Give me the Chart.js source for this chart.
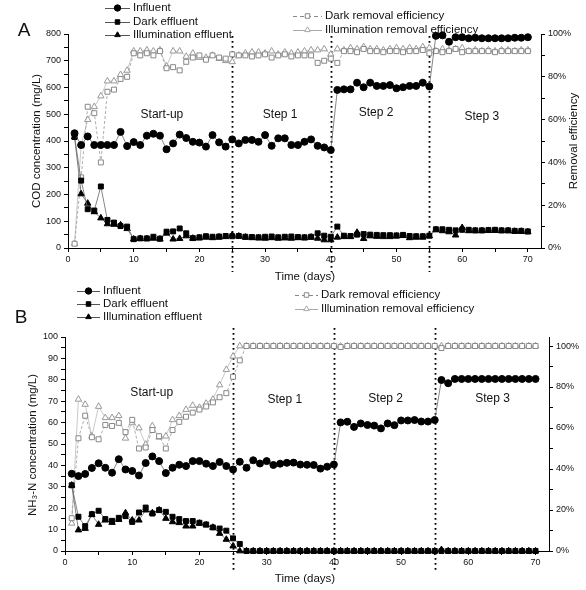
<!DOCTYPE html>
<html>
<head>
<meta charset="utf-8">
<script src="https://cdn.jsdelivr.net/npm/chart.js@4.4.0/dist/chart.umd.min.js"></script>
<style>
  body { margin: 0; background: #fff; }
  #wrap { position: relative; width: 586px; height: 590px; }
  #chartA { position: absolute; left: 0; top: 0; }
  #chartB { position: absolute; left: 0; top: 280px; }
</style>
</head>
<body>
<div id="wrap">
  <canvas id="chartA" width="586" height="290"></canvas>
  <canvas id="chartB" width="586" height="310"></canvas>
</div>
<script>
// days of operation
const days = [1,2,3,4,5,6,7,8,9,10,11,12,13,14,15,16,17,18,19,20,21,22,23,24,25,26,27,28,29,30,31,32,33,34,35,
  36,37,38,39,40,41,42,43,44,45,46,47,48,49,50,51,52,53,54,55,56,57,58,59,60,61,62,63,64,65,66,67,68,69,70];
const stepNames = ["Start-up", "Step 1", "Step 2", "Step 3"];
const stepBounds = [25, 40, 55];

// tick positions (labels only on every other one)
const xTicks = [0,5,10,15,20,25,30,35,40,45,50,55,60,65,70];
const codTicks = [0,50,100,150,200,250,300,350,400,450,500,550,600,650,700,750,800];
const nhTicks = [0,5,10,15,20,25,30,35,40,45,50,55,60,65,70,75,80,85,90,95,100];
const pctTicks = [0,10,20,30,40,50,60,70,80,90,100];

// panel A - COD (mg/L) and removal efficiency (%)
const codInfluent = [429,385,417,385,385,385,385,434,381,396,385,420,427,420,369,391,424,411,397,
  394,379,422,395,379,406,391,404,404,397,422,382,410,410,385,385,397,406,382,376,366,
  591,593,593,618,601,618,606,606,609,597,601,606,606,618,604,
  793,795,771,788,788,784,786,784,784,784,784,784,786,786,788];
const codDark = [415,252,145,140,230,105,95,82,80,33,36,36,42,35,61,62,73,55,37,40,44,42,43,45,44,
  45,42,41,40,42,43,40,42,43,41,40,42,55,46,42,
  80,46,45,50,52,50,49,48,48,47,49,45,44,44,46,
  70,70,68,66,68,68,66,66,67,68,66,66,64,64,62];
const codIllum = [415,202,167,135,112,90,88,86,72,33,35,34,36,33,55,33,35,45,36,37,40,38,40,42,48,
  44,40,38,37,36,38,36,37,36,38,37,40,36,30,30,
  40,42,42,58,35,45,43,42,42,44,46,38,40,40,45,
  68,64,60,48,76,64,64,64,65,65,64,64,62,62,60];
const codDarkEff = [2,33,66,63,40,73,74,79,80,91,90,91,90,92,84,84.5,83,87,89,90,88,90,89,88.5,90.5,
  90,90,89.5,90,90.5,89,90,90.5,89.5,90,90,90,86.5,87.5,88.5,
  86.5,92,92,91.5,93,92,92,91.5,92,92,91.5,92,92,92.5,91,
  92,91.5,92,93,91.5,92,92,92,92,91.5,92,92,92,92,92];
const codIllumEff = [2,48,60,66,71,78,78,81,83,92,92,92.5,92,92.5,85,92,92,89.5,91,89,89,90,88.5,87.5,87,
  90,91,91.5,91.5,91,92,90.5,91.5,91,91.5,92,92.5,92.5,93,90.5,
  93,92.5,93.5,93,94,93,93,92.5,93,93.5,93,93.5,93,94,93.5,
  92,93,92.5,93,93.5,92,92.5,92,92.5,92,92.5,92.5,92,92.5,92.5];

// panel B - NH3-N (mg/L) and removal efficiency (%)
const nhInfluent = [36.1,35,36,38.8,41,38.9,36.6,42.9,38.1,37.4,35.3,41.1,44.2,42,36.4,38.9,40.3,39.7,42,42,
  40.8,39.7,41.6,39.7,38.1,41.7,38.9,42.4,40.9,42,40.2,40.8,41.2,41.3,40.4,40.3,40.2,38.5,39.4,40.4,
  60.1,60.4,58,59.6,58.9,58.6,57.3,59.6,58.8,61,61,61.2,60.5,60.5,61.2,
  79.9,78.4,80.4,80.4,80.4,80.4,80.4,80.4,80.4,80.4,80.4,80.4,80.4,80.4,80.4];
const nhDark = [30.7,16,11.6,17.2,18.8,14.9,14.1,15.5,16.3,13.6,18,20.3,17.5,19.1,18.3,16,14.9,14,14,13.2,
  12.4,11,10.5,9.5,5.9,3.3,0,0,0,0,0,0,0,0,0,0,0,0,0,0,
  0,0,0,0,0,0,0,0,0,0,0,0,0,0,0,
  0,0,0,0,0,0,0,0,0,0,0,0,0,0,0];
const nhIllum = [30.7,9.8,10.5,17,12.4,14.4,13.3,14.7,17.8,14.4,14.4,19.1,17.8,19.1,15.2,13.6,13.2,11.6,11.6,12.9,
  12.1,11,8.2,5.4,2.3,0,0,0,0,0,0,0,0,0,0,0,0,0,0,0,
  0,0,0,0,0,0,0,0,0,0,0,0,0,0,0,
  0.6,0,0,0,0,0,0,0,0,0,0,0,0,0,0];
const nhDarkEff = [16,55,66,55.5,54.5,61.5,61,62.5,58,64,50,50.5,59,56,50,59,63,65.5,67.5,69,
  70.5,72.5,75,77,85,93,100,100,100,100,100,100,100,100,100,100,100,100,100,100,
  99.5,100,100,100,100,100,100,100,100,100,100,100,100,100,100,
  99,100,100,100,100,100,100,100,100,100,100,100,100,100,100];
const nhIllumEff = [13.5,74,71.5,56,70.5,65,65,66,55,62.5,60,52,61,55.5,56,64,66,69,71,70,
  72,74,81,88.5,95,100,100,100,100,100,100,100,100,100,100,100,100,100,100,100,
  100,100,100,100,100,100,100,100,100,100,100,100,100,100,100,
  100,100,100,100,100,100,100,100,100,100,100,100,100,100,100];

const FONT = '"Liberation Sans", Arial, sans-serif';
Chart.defaults.font.family = FONT;
Chart.defaults.color = "#111";

function pts(ys) {
  return days.map((d, i) => ({ x: d, y: ys[i] }));
}

// small marker drawer for the hand-made legends
function marker(ctx, style, x, y, r, fill, stroke) {
  ctx.save();
  ctx.setLineDash([]);
  ctx.fillStyle = fill;
  ctx.strokeStyle = stroke;
  ctx.lineWidth = 1;
  ctx.beginPath();
  if (style === "circle") {
    ctx.arc(x, y, r, 0, Math.PI * 2);
  } else if (style === "rect") {
    const s = r * Math.SQRT1_2;
    ctx.rect(x - s, y - s, 2 * s, 2 * s);
  } else {
    let a = 0;
    ctx.moveTo(x + Math.sin(a) * r, y - Math.cos(a) * r);
    a += Math.PI * 2 / 3;
    ctx.lineTo(x + Math.sin(a) * r, y - Math.cos(a) * r);
    a += Math.PI * 2 / 3;
    ctx.lineTo(x + Math.sin(a) * r, y - Math.cos(a) * r);
    ctx.closePath();
  }
  ctx.fill();
  ctx.stroke();
  ctx.restore();
}

// dotted step lines, step names, axis titles, legends, panel letter
function decor(o) {
  return {
    id: "decor",
    beforeDatasetsDraw(chart) {
      const ctx = chart.ctx, xs = chart.scales.x, ys = chart.scales.y;
      ctx.save();
      ctx.strokeStyle = "#000";
      ctx.lineWidth = 1.8;
      ctx.setLineDash([1.8, 3.2]);
      stepBounds.forEach((d) => {
        const px = Math.round(xs.getPixelForValue(d)) + 0.5;
        ctx.beginPath();
        ctx.moveTo(px, o.lineTop);
        ctx.lineTo(px, o.lineBottom);
        ctx.stroke();
      });
      ctx.setLineDash([]);
      ctx.fillStyle = "#111";
      ctx.font = "12px " + FONT;
      ctx.textAlign = "center";
      ctx.textBaseline = "middle";
      stepNames.forEach((s, i) => {
        ctx.fillText(s, xs.getPixelForValue(o.stepX[i]), ys.getPixelForValue(o.stepY[i]));
      });
      ctx.restore();
    },
    afterDraw(chart) {
      const ctx = chart.ctx;
      ctx.save();
      ctx.fillStyle = "#111";
      ctx.textBaseline = "middle";
      // panel letter
      ctx.font = "19px " + FONT;
      ctx.textAlign = "center";
      ctx.fillText(o.letter, o.letterPos[0], o.letterPos[1]);
      // axis titles
      ctx.font = "11.5px " + FONT;
      ctx.fillText("Time (days)", o.xTitle[0], o.xTitle[1]);
      o.yTitles.forEach((t) => {
        ctx.save();
        ctx.translate(t.x, t.y);
        ctx.rotate(-Math.PI / 2);
        ctx.fillText(t.text, 0, 0);
        ctx.restore();
      });
      // legends
      ctx.font = "11.5px " + FONT;
      ctx.textAlign = "left";
      o.legend.forEach((it) => {
        ctx.save();
        ctx.strokeStyle = it.line;
        ctx.lineWidth = 1;
        ctx.setLineDash(it.dash || []);
        ctx.beginPath();
        ctx.moveTo(it.x0, it.y + 0.5);
        ctx.lineTo(it.x1, it.y + 0.5);
        ctx.stroke();
        ctx.restore();
        marker(ctx, it.style, (it.x0 + it.x1) / 2, it.y, 3.2, it.fill, it.stroke);
        ctx.fillStyle = "#111";
        ctx.fillText(it.text, it.x1 + 3, it.y);
      });
      ctx.restore();
    }
  };
}

function legendItems(lx0, lx1, ly, rx0, rx1, ry) {
  return [
    { text: "Influent", style: "circle", fill: "#000", stroke: "#000", line: "#555", x0: lx0, x1: lx1, y: ly[0] },
    { text: "Dark effluent", style: "rect", fill: "#000", stroke: "#000", line: "#555", x0: lx0, x1: lx1, y: ly[1] },
    { text: "Illumination effluent", style: "triangle", fill: "#000", stroke: "#000", line: "#555", x0: lx0, x1: lx1, y: ly[2] },
    { text: "Dark removal efficiency", style: "rect", fill: "#fff", stroke: "#888", line: "#888", dash: [4, 3], x0: rx0, x1: rx1, y: ry[0] },
    { text: "Illumination removal efficiency", style: "triangle", fill: "#fff", stroke: "#aaa", line: "#aaa", x0: rx0, x1: rx1, y: ry[1] }
  ];
}

function makeDatasets(inf, dark, ill, darkEff, illEff) {
  const base = { showLine: true, borderWidth: 0.8, clip: false, pointBorderWidth: 1 };
  return [
    Object.assign({}, base, { label: "Influent", data: pts(inf), yAxisID: "y", borderColor: "#666",
      pointStyle: "circle", pointRadius: 3.5, pointBackgroundColor: "#000", pointBorderColor: "#000", order: 0 }),
    Object.assign({}, base, { label: "Dark effluent", data: pts(dark), yAxisID: "y", borderColor: "#666",
      pointStyle: "rect", pointRadius: 3.5, pointBackgroundColor: "#000", pointBorderColor: "#000", order: 1 }),
    Object.assign({}, base, { label: "Illumination effluent", data: pts(ill), yAxisID: "y", borderColor: "#666",
      pointStyle: "triangle", pointRadius: 3.7, pointBackgroundColor: "#000", pointBorderColor: "#000", order: 2 }),
    Object.assign({}, base, { label: "Dark removal efficiency", data: pts(darkEff), yAxisID: "y2", borderColor: "#999",
      borderDash: [3, 2], pointStyle: "rect", pointRadius: 3.5, pointBackgroundColor: "#fff", pointBorderColor: "#888", order: 3 }),
    Object.assign({}, base, { label: "Illumination removal efficiency", data: pts(illEff), yAxisID: "y2", borderColor: "#bbb",
      pointStyle: "triangle", pointRadius: 3.7, pointBackgroundColor: "#fff", pointBorderColor: "#999", order: 4 })
  ];
}

function axisStyle() {
  return {
    border: { display: true, color: "#000", width: 1 },
    grid: { drawOnChartArea: false, drawTicks: true, tickLength: 4, color: "#000", tickColor: "#000" }
  };
}

function fixTicks(list) {
  return (s) => { s.ticks = list.map((v) => ({ value: v })); };
}

function makeOptions(p) {
  return {
    responsive: false,
    animation: false,
    layout: { padding: { top: p.top, left: 0, right: 0, bottom: 0 } },
    plugins: { legend: { display: false }, tooltip: { enabled: false } },
    scales: {
      x: Object.assign(axisStyle(), {
        type: "linear", min: 0, max: 72,
        afterFit: (s) => { s.height = p.xHeight; },
        afterBuildTicks: fixTicks(xTicks),
        ticks: { autoSkip: false, maxRotation: 0, padding: 2, font: { size: 9 },
          callback: (v) => (v % 10 === 0 ? v : "") }
      }),
      y: Object.assign(axisStyle(), {
        position: "left", min: 0, max: p.yMax,
        afterFit: (s) => { s.width = p.yWidth; },
        afterBuildTicks: fixTicks(p.yTicks),
        ticks: { autoSkip: false, padding: 3, font: { size: 9 },
          callback: (v) => (v % p.yStep === 0 ? v : "") }
      }),
      y2: Object.assign(axisStyle(), {
        position: "right", min: 0, max: p.y2Max,
        afterFit: (s) => { s.width = p.y2Width; },
        afterBuildTicks: fixTicks(pctTicks),
        ticks: { autoSkip: false, padding: 3, font: { size: 9 },
          callback: (v) => (v % 20 === 0 ? v + "%" : "") }
      })
    }
  };
}

// panel A
new Chart(document.getElementById("chartA").getContext("2d"), {
  type: "scatter",
  data: { datasets: makeDatasets(codInfluent, codDark, codIllum, codDarkEff, codIllumEff) },
  options: makeOptions({ top: 34, xHeight: 42, yWidth: 68, y2Width: 45, yMax: 800, yStep: 100, yTicks: codTicks, y2Max: 100 }),
  plugins: [decor({
    letter: "A", letterPos: [24, 31],
    lineTop: 36, lineBottom: 272,
    stepX: [14.3, 32.3, 46.9, 63], stepY: [497, 497, 505, 490],
    xTitle: [305, 277],
    yTitles: [{ text: "COD concentration (mg/L)", x: 37, y: 141 }, { text: "Removal efficiency", x: 574, y: 141 }],
    legend: legendItems(105, 130, [8, 22, 35], 293, 322, [16, 30])
  })]
});

// panel B
new Chart(document.getElementById("chartB").getContext("2d"), {
  type: "scatter",
  data: { datasets: makeDatasets(nhInfluent, nhDark, nhIllum, nhDarkEff, nhIllumEff) },
  options: makeOptions({ top: 57, xHeight: 39, yWidth: 65, y2Width: 37, yMax: 100, yStep: 10, yTicks: nhTicks, y2Max: 104.4 }),
  plugins: [decor({
    letter: "B", letterPos: [21, 38],
    lineTop: 48, lineBottom: 293,
    stepX: [12.9, 32.7, 47.7, 63.6], stepY: [74, 70.5, 71, 71],
    xTitle: [305, 299],
    yTitles: [{ text: "NH\u2083-N concentration (mg/L)", x: 33, y: 165 }],
    legend: legendItems(77, 100, [11, 24, 37], 295, 318, [15, 29])
  })]
});
</script>
</body>
</html>
